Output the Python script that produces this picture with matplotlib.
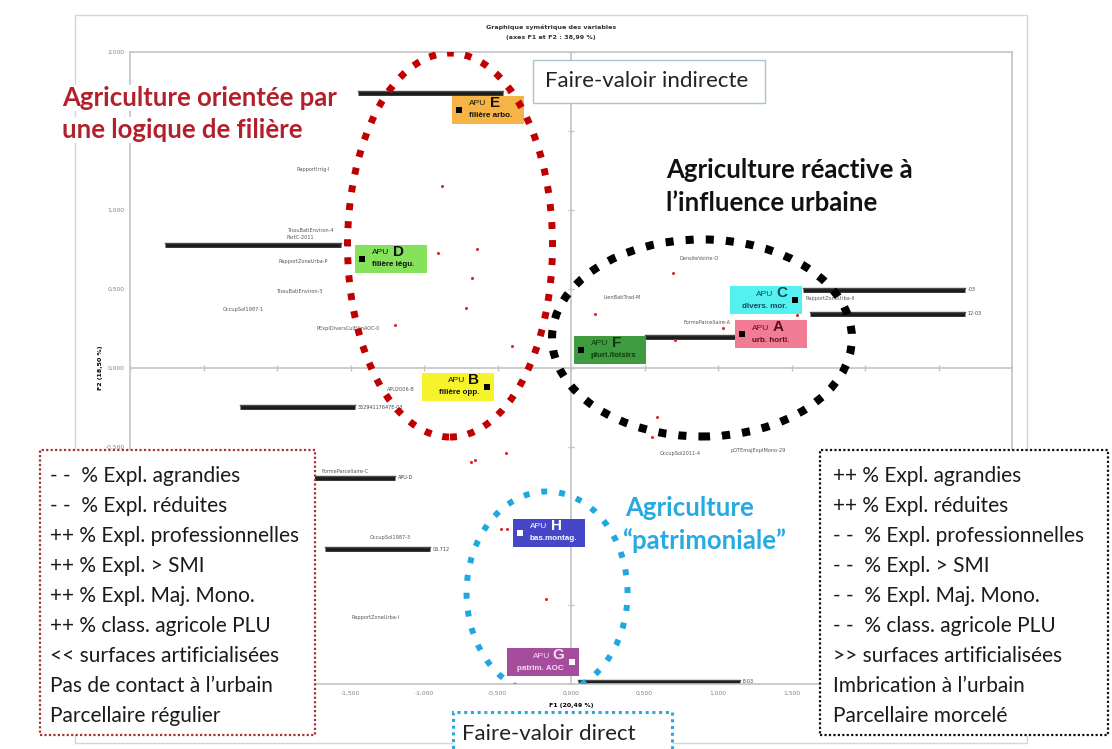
import numpy as np
import matplotlib
matplotlib.use("Agg")
import matplotlib.pyplot as plt
from matplotlib.patches import Ellipse, Rectangle
import matplotlib.transforms as mtrans

# variable coordinates on F1 / F2 (red points)
dot_x = [-0.878, -0.905, -0.639, -0.673, -0.714, -1.197, -0.401, -0.442, -0.680, -0.653,
         0.694, 0.163, 1.034, 0.707, 1.537, 0.585, 0.551, 1.027, -0.476, -0.435, -0.170]
dot_y = [1.152, 0.728, 0.753, 0.570, 0.380, 0.272, 0.139, -0.538, -0.595, -0.582,
         0.601, 0.342, 0.253, 0.177, 0.335, -0.310, -0.437, -0.411, -1.019, -1.019, -1.462]

# piles of overlapping labels (drawn as dark smudges)
pile_y = [1.741, 0.778, -0.247, -0.696, -1.146, 0.494, 0.342, 0.196, -1.985]
pile_x0 = [-1.449, -2.762, -2.252, -1.755, -1.673, 1.578, 1.626, 0.503, 0.048]
pile_x1 = [-0.463, -1.565, -1.469, -1.197, -0.959, 2.680, 2.680, 1.116, 1.150]
pile_tail = ["-1", "-03", "35294117647E-03", "APU-D", "06.712", "-03", "12-03", "", "E-03"]

# single variable labels
lab_txt = ["RapportIrrig-I", "TissuBatiEnviron-4", "PartC-2011", "RapportZoneUrba-P",
           "TissuBatiEnviron-3", "OccupSol1987-1", "PExplDiversCultVinAOC-0", "APU2006-B",
           "FormeParcellaire-C", "OccupSol1987-3", "RapportZoneUrba-I", "DensiteVoirie-O",
           "LienBatiTrad-M", "FormeParcellaire-A", "RapportIrrig-L", "RapportZoneUrba-II",
           "OccupSol2011-4", "pOTEmajExplMono-29"]
lab_x = [-1.864, -1.932, -1.932, -1.993, -2.007, -2.367, -1.728, -1.252, -1.694, -1.367,
         -1.490, 0.741, 0.218, 0.762, 1.116, 1.592, 0.605, 1.088]
lab_y = [1.259, 0.873, 0.829, 0.671, 0.487, 0.373, 0.253, -0.133, -0.652, -1.070,
         -1.576, 0.696, 0.449, 0.285, 0.361, 0.443, -0.538, -0.519]

# APU centroids
apu_letter = ["E", "D", "B", "F", "C", "A", "H", "G"]
apu_sub = ["filière arbo.", "filière légu.", "filière opp.", "pluri./loisirs",
           "divers. mor.", "urb. horti.", "bas.montag.", "patrim. AOC"]
apu_x = [-0.762, -1.422, -0.571, 0.068, 1.524, 1.163, -0.347, 0.007]
apu_y = [1.633, 0.690, -0.120, 0.114, 0.430, 0.215, -1.044, -1.861]
apu_side = ["L", "L", "R", "L", "R", "L", "L", "R"]
apu_fill = ["#F5B445", "#86E25A", "#F6F22C", "#3F9B3F", "#55F0F0", "#F27C94", "#4646C8", "#A64C9C"]
apu_ink = ["#111111", "#111111", "#111111", "#0E3A0E", "#0C4A58", "#5A0F1C", "white", "#F6DDF2"]
apu_mark = ["black"] * 6 + ["white", "white"]

# groupings (center x, center y, width, height)
groups = {
    "filiere": ((-0.823, 0.778, 1.395, 2.430), "#C00000", 5.0, (1, 1.6)),
    "urbain": ((0.891, 0.190, 2.040, 1.247), "black", 5.8, (1, 1.5)),
    "patrim": ((-0.163, -1.424, 1.095, 1.285), "#1FA8E0", 4.3, (1, 2.0)),
}

left_list = ["- -  % Expl. agrandies", "- -  % Expl. réduites", "++ % Expl. professionnelles",
             "++ % Expl. > SMI", "++ % Expl. Maj. Mono.", "++ % class. agricole PLU",
             "<< surfaces artificialisées", "Pas de contact à l\u2019urbain", "Parcellaire régulier"]
right_list = ["++ % Expl. agrandies", "++ % Expl. réduites", "- -  % Expl. professionnelles",
              "- -  % Expl. > SMI", "- -  % Expl. Maj. Mono.", "- -  % class. agricole PLU",
              ">> surfaces artificialisées", "Imbrication à l\u2019urbain", "Parcellaire morcelé"]

xticks = np.arange(-3, 3.01, 0.5)
yticks = np.arange(-2, 2.01, 0.5)
# tick labels that stay visible (the others sit under the text boxes)
xshown = [-1.5, -1.0, -0.5, 0.0, 0.5, 1.0, 1.5]
yshown = [-0.5, 0.0, 0.5, 1.0, 2.0]

W, H = 1112, 749
fig = plt.figure(figsize=(W / 100, H / 100), dpi=100)
fig.patch.set_facecolor("white")


def fx(px):
    return px / W


def fy(py):
    return 1 - py / H


ax = fig.add_axes([fx(130), fy(684), (1012 - 130) / W, (684 - 52) / H])
ax.set_xlim(-3, 3)
ax.set_ylim(-2, 2)
for s in ax.spines.values():
    s.set_color("#c4c4c4")
    s.set_linewidth(1.2)
fmt = lambda v, shown: f"{v:.3f}".replace(".", ",") if round(v, 2) in shown else ""
ax.set_xticks(xticks, [fmt(v, xshown) for v in xticks])
ax.set_yticks(yticks, [fmt(v, yshown) for v in yticks])
ax.tick_params(length=0, labelsize=4.3, labelcolor="#808080")
ax.tick_params(axis="x", pad=5)
ax.tick_params(axis="y", pad=4)
ax.set_xlabel("F1 (20,49 %)", fontsize=4.5, fontweight="bold", labelpad=5)
ax.set_ylabel("F2 (18,50 %)", fontsize=4.5, fontweight="bold", labelpad=2)

# zero axes with small ticks
ax.axhline(0, color="#c4c4c4", lw=1.2, zorder=1)
ax.axvline(0, color="#c4c4c4", lw=1.2, zorder=1)
ax.plot(xticks, np.zeros_like(xticks), ls="none", marker="|", ms=4, color="#c4c4c4", zorder=1)
ax.plot(np.zeros_like(yticks), yticks, ls="none", marker="_", ms=4, color="#c4c4c4", zorder=1)

# label piles
for y, a, b, t in zip(pile_y, pile_x0, pile_x1, pile_tail):
    ax.plot([a, b], [y, y], color="#1c1c1c", lw=3.4, solid_capstyle="butt", zorder=2)
    ax.plot([a, b], [y + 0.013, y + 0.013], color="#4a4a4a", lw=1.0, zorder=2)
    if t:
        ax.text(b + 0.02, y, t, fontsize=3.5, color="#444444", va="center", zorder=2)

for t, x, y in zip(lab_txt, lab_x, lab_y):
    ax.text(x, y, t, fontsize=3.6, color="#555555", va="center", ha="left", zorder=3)

ax.scatter(dot_x, dot_y, s=5, color="#E02828", zorder=3, linewidths=0)

# APU tags
ident = mtrans.IdentityTransform()
for L, sub, x, y, side, fc, ink, mc in zip(apu_letter, apu_sub, apu_x, apu_y, apu_side,
                                         apu_fill, apu_ink, apu_mark):
    px, py = ax.transData.transform((x, y))
    x0 = px - 7 if side == "L" else px - 65
    ax.add_patch(Rectangle((x0, py - 14), 72, 28, transform=ident, facecolor=fc,
                           edgecolor="none", zorder=5))
    ax.add_patch(Rectangle((px - 3, py - 3), 6, 6, transform=ident, facecolor=mc,
                           edgecolor="none", zorder=6))
    kw = dict(transform=ident, family="Liberation Sans", color=ink, zorder=6, va="center")
    if side == "L":
        ax.text(px + 10, py + 6, "APU", fontsize=6, ha="left", **kw)
        ax.text(px + 31, py + 7, L, fontsize=11, fontweight="bold", ha="left", **kw)
        ax.text(px + 10, py - 6, sub, fontsize=5.8, fontweight="bold", ha="left", **kw)
    else:
        ax.text(px - 22, py + 6, "APU", fontsize=6, ha="right", **kw)
        ax.text(px - 8, py + 7, L, fontsize=11, fontweight="bold", ha="right", **kw)
        ax.text(px - 8, py - 6, sub, fontsize=5.8, fontweight="bold", ha="right", **kw)

# dotted groupings
for (cx, cy, w, h), col, lw, dash in groups.values():
    ax.add_patch(Ellipse((cx, cy), w, h, fill=False, edgecolor=col, lw=lw,
                         linestyle=(0, dash), zorder=7))

# outer chart frame
fig.patches.append(Rectangle((fx(75), fy(743)), (1027 - 75) / W, (743 - 15) / H,
                             transform=fig.transFigure, fill=False, edgecolor="#d6d6d6",
                             lw=1.0, zorder=1))

fig.text(fx(551), fy(27), "Graphique symétrique des variables", fontsize=4.6,
         fontweight="bold", ha="center", va="center", color="#333333")
fig.text(fx(551), fy(38), "(axes F1 et F2 : 38,99 %)", fontsize=4.6,
         fontweight="bold", ha="center", va="center", color="#333333")

body = "Lato"
hsize = 18.5
# headings
for txt, py in [("Agriculture orientée par", 98), ("une logique de filière", 130)]:
    fig.text(fx(62), fy(py), txt, fontsize=hsize, fontweight="bold", family=body,
             color="#B3202C", va="center", ha="left", zorder=3,
             bbox=dict(facecolor="white", edgecolor="none", pad=1.0))
for txt, py in [("Agriculture réactive à", 170), ("l\u2019influence urbaine", 203)]:
    fig.text(fx(666), fy(py), txt, fontsize=hsize, fontweight="bold", family=body,
             color="#111111", va="center", ha="left", zorder=3)
for txt, px, py in [("Agriculture", 625, 508), ("\u201cpatrimoniale\u201d", 622, 541)]:
    fig.text(fx(px), fy(py), txt, fontsize=hsize, fontweight="bold", family=body,
             color="#27A9E1", va="center", ha="left", zorder=3)

# Faire-valoir boxes
fig.patches.append(Rectangle((fx(533), fy(103)), (765 - 533) / W, (103 - 60) / H,
                             transform=fig.transFigure, facecolor="white",
                             edgecolor="#a8c6ce", lw=1.0, zorder=2))
fig.text(fx(545), fy(81), "Faire-valoir indirecte", fontsize=16, family=body,
         color="#222222", va="center", ha="left", zorder=3)
fig.patches.append(Rectangle((fx(453), fy(765)), (672 - 453) / W, (765 - 712) / H,
                             transform=fig.transFigure, facecolor="white",
                             edgecolor="#29A8E0", lw=2.2, linestyle=(0, (1, 1.2)), zorder=2))
fig.text(fx(462), fy(734), "Faire-valoir direct", fontsize=16, family=body,
         color="#222222", va="center", ha="left", zorder=3)

# characteristic lists
fig.patches.append(Rectangle((fx(40), fy(735)), (315 - 40) / W, (735 - 450) / H,
                             transform=fig.transFigure, facecolor="white",
                             edgecolor="#A83232", lw=1.6, linestyle=(0, (1, 1)), zorder=2))
fig.patches.append(Rectangle((fx(820), fy(735)), (1108 - 820) / W, (735 - 450) / H,
                             transform=fig.transFigure, facecolor="white",
                             edgecolor="#111111", lw=1.6, linestyle=(0, (1, 1)), zorder=2))
for i, (a, b) in enumerate(zip(left_list, right_list)):
    py = 476 + 30 * i
    fig.text(fx(50), fy(py), a, fontsize=15, family=body, color="#1a1a1a",
             va="center", ha="left", zorder=3)
    fig.text(fx(833), fy(py), b, fontsize=15, family=body, color="#1a1a1a",
             va="center", ha="left", zorder=3)

fig.savefig("out.png", dpi=100)
